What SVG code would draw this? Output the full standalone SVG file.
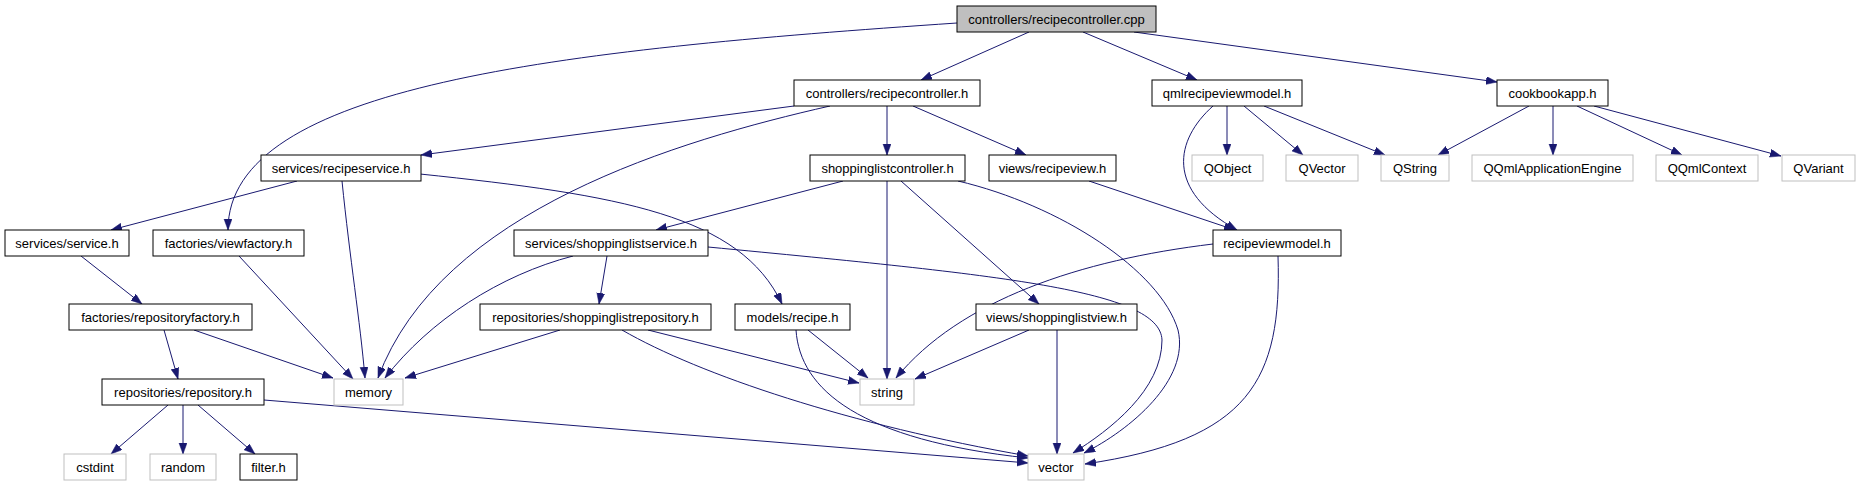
<svg xmlns="http://www.w3.org/2000/svg" width="1861" height="485" viewBox="0 0 1861 485">
<style>
.n rect{fill:#fff;stroke:#000;stroke-width:1}
.n.root rect{fill:#bfbfbf}
.n.sys rect{stroke:#bfbfbf}
.n text{font-family:"Liberation Sans",Arial,sans-serif;font-size:13px;fill:#000;text-anchor:middle}
#edges path{fill:none;stroke:#191970;stroke-width:1;marker-end:url(#arr)}
</style>
<defs>
<marker id="arr" markerUnits="userSpaceOnUse" markerWidth="12" markerHeight="9" refX="11" refY="4" orient="auto">
<path d="M0,0 L11,4 L0,8 z" fill="#191970" stroke="#191970" stroke-width="0.5"/>
</marker>
</defs>
<rect width="1861" height="485" fill="#fff"/>
<g id="edges">
<path d="M1029,32 L921,80"/>
<path d="M1083,32 L1197,80"/>
<path d="M1134,32 L1497,82"/>
<path d="M957,23 C560,50 228,85 228,230"/>
<path d="M794,106 L421,155"/>
<path d="M830,106 C680,140 440,210 378,378"/>
<path d="M887,106 L887,155"/>
<path d="M913,106 L1026,155"/>
<path d="M1227,106 L1227,155"/>
<path d="M1244,106 L1303,155"/>
<path d="M1264,106 L1385,155"/>
<path d="M1213,106 C1175,140 1165,190 1237,230"/>
<path d="M1529,106 L1438,155"/>
<path d="M1553,106 L1553,155"/>
<path d="M1577,106 L1682,155"/>
<path d="M1594,106 L1781,156"/>
<path d="M297,181 L111,230"/>
<path d="M342,181 C350,260 360,320 365,378"/>
<path d="M420,174 C620,195 740,215 782,304"/>
<path d="M843,181 L656,230"/>
<path d="M887,181 L887,379"/>
<path d="M901,181 L1039,304"/>
<path d="M958,181 C1060,205 1160,270 1178,330 C1190,380 1130,430 1084,453"/>
<path d="M1089,181 L1235,230"/>
<path d="M81,256 L142,304"/>
<path d="M239,256 L353,379"/>
<path d="M573,256 C500,275 430,320 385,378"/>
<path d="M607,256 L599,304"/>
<path d="M708,247 C1000,275 1160,290 1162,340 C1162,390 1110,430 1073,453"/>
<path d="M1213,244 C1080,260 960,300 896,378"/>
<path d="M1278,256 C1282,380 1250,440 1085,464"/>
<path d="M164,330 L178,379"/>
<path d="M194,330 L333,378"/>
<path d="M560,330 L405,378"/>
<path d="M648,330 L859,383"/>
<path d="M622,330 C700,375 850,425 1028,456"/>
<path d="M808,330 L868,378"/>
<path d="M796,330 C800,390 860,440 1028,458"/>
<path d="M1029,330 L915,379"/>
<path d="M1057,330 L1057,454"/>
<path d="M168,405 L111,454"/>
<path d="M183,405 L183,454"/>
<path d="M198,405 L255,454"/>
<path d="M264,400 L1028,463"/>
</g>
<g id="n0" class="n root"><rect x="957" y="6" width="199" height="26"/><text x="1056.5" y="23.5">controllers/recipecontroller.cpp</text></g>
<g id="n1" class="n"><rect x="794" y="80" width="186" height="26"/><text x="887" y="97.5">controllers/recipecontroller.h</text></g>
<g id="n2" class="n"><rect x="1152" y="80" width="150" height="26"/><text x="1227" y="97.5">qmlrecipeviewmodel.h</text></g>
<g id="n3" class="n"><rect x="1497" y="80" width="111" height="26"/><text x="1552.5" y="97.5">cookbookapp.h</text></g>
<g id="n4" class="n"><rect x="261" y="155" width="160" height="26"/><text x="341" y="172.5">services/recipeservice.h</text></g>
<g id="n5" class="n"><rect x="810" y="155" width="155" height="26"/><text x="887.5" y="172.5">shoppinglistcontroller.h</text></g>
<g id="n6" class="n"><rect x="989" y="155" width="127" height="26"/><text x="1052.5" y="172.5">views/recipeview.h</text></g>
<g id="n7" class="n sys"><rect x="1192" y="155" width="71" height="26"/><text x="1227.5" y="172.5">QObject</text></g>
<g id="n8" class="n sys"><rect x="1286" y="155" width="72" height="26"/><text x="1322" y="172.5">QVector</text></g>
<g id="n9" class="n sys"><rect x="1381" y="155" width="68" height="26"/><text x="1415" y="172.5">QString</text></g>
<g id="n10" class="n sys"><rect x="1472" y="155" width="161" height="26"/><text x="1552.5" y="172.5">QQmlApplicationEngine</text></g>
<g id="n11" class="n sys"><rect x="1656" y="155" width="102" height="26"/><text x="1707" y="172.5">QQmlContext</text></g>
<g id="n12" class="n sys"><rect x="1782" y="155" width="73" height="26"/><text x="1818.5" y="172.5">QVariant</text></g>
<g id="n13" class="n"><rect x="5" y="230" width="124" height="26"/><text x="67" y="247.5">services/service.h</text></g>
<g id="n14" class="n"><rect x="153" y="230" width="151" height="26"/><text x="228.5" y="247.5">factories/viewfactory.h</text></g>
<g id="n15" class="n"><rect x="514" y="230" width="194" height="26"/><text x="611" y="247.5">services/shoppinglistservice.h</text></g>
<g id="n16" class="n"><rect x="1213" y="230" width="128" height="26"/><text x="1277" y="247.5">recipeviewmodel.h</text></g>
<g id="n17" class="n"><rect x="69" y="304" width="183" height="26"/><text x="160.5" y="321.5">factories/repositoryfactory.h</text></g>
<g id="n18" class="n"><rect x="480" y="304" width="231" height="26"/><text x="595.5" y="321.5">repositories/shoppinglistrepository.h</text></g>
<g id="n19" class="n"><rect x="735" y="304" width="115" height="26"/><text x="792.5" y="321.5">models/recipe.h</text></g>
<g id="n20" class="n"><rect x="976" y="304" width="161" height="26"/><text x="1056.5" y="321.5">views/shoppinglistview.h</text></g>
<g id="n21" class="n"><rect x="102" y="379" width="162" height="26"/><text x="183" y="396.5">repositories/repository.h</text></g>
<g id="n22" class="n sys"><rect x="334" y="379" width="69" height="26"/><text x="368.5" y="396.5">memory</text></g>
<g id="n23" class="n sys"><rect x="860" y="379" width="54" height="26"/><text x="887" y="396.5">string</text></g>
<g id="n24" class="n sys"><rect x="64" y="454" width="62" height="26"/><text x="95" y="471.5">cstdint</text></g>
<g id="n25" class="n sys"><rect x="150" y="454" width="66" height="26"/><text x="183" y="471.5">random</text></g>
<g id="n26" class="n"><rect x="240" y="454" width="57" height="26"/><text x="268.5" y="471.5">filter.h</text></g>
<g id="n27" class="n sys"><rect x="1028" y="454" width="56" height="26"/><text x="1056" y="471.5">vector</text></g>
</svg>
